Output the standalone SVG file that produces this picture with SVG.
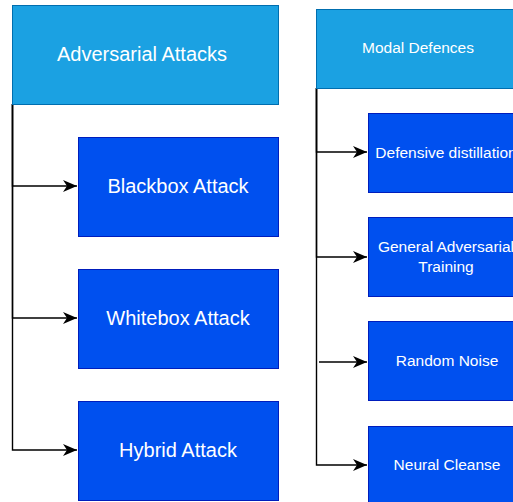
<svg xmlns="http://www.w3.org/2000/svg" width="513" height="502" viewBox="0 0 513 502">
<style>
.hdr{fill:#1ba1e2;stroke:#006eaf;stroke-width:1}
.box{fill:#0050ef;stroke:#001dbc;stroke-width:1}
.t{fill:#ffffff;font-family:"Liberation Sans",Arial,sans-serif;text-anchor:middle}
.big{font-size:20px}
.sm{font-size:15.5px}
.c{fill:none;stroke:#000;stroke-width:1.4}
</style>
<defs>
<marker id="arr" markerUnits="userSpaceOnUse" markerWidth="16" markerHeight="16" viewBox="0 0 16 16" refX="15" refY="8" orient="auto">
<path d="M1,2 L15,8 L1,14 L5,8 Z" fill="#000"/>
</marker>
</defs>
<rect width="513" height="502" fill="#fff"/>
<g id="connectors">
<path class="c" d="M12.5,104 V186 H77" marker-end="url(#arr)"/>
<path class="c" d="M12.5,104 V318 H77" marker-end="url(#arr)"/>
<path class="c" d="M12.5,104 V450 H77" marker-end="url(#arr)"/>
<path class="c" d="M316.5,88 V152 H367" marker-end="url(#arr)"/>
<path class="c" d="M316.5,88 V257 H367" marker-end="url(#arr)"/>
<path class="c" d="M316.5,88 V465 H367" marker-end="url(#arr)"/>
<path class="c" d="M319,362 H367" marker-end="url(#arr)"/>
</g>
<g id="adversarial-attacks">
<rect class="hdr" x="12.5" y="5.5" width="266" height="99"/>
<text class="t big" x="142" y="61">Adversarial Attacks</text>
</g>
<g id="blackbox-attack">
<rect class="box" x="78.5" y="137.5" width="200" height="99"/>
<text class="t big" x="178" y="193">Blackbox Attack</text>
</g>
<g id="whitebox-attack">
<rect class="box" x="78.5" y="269.5" width="200" height="99"/>
<text class="t big" x="178" y="325">Whitebox Attack</text>
</g>
<g id="hybrid-attack">
<rect class="box" x="78.5" y="401.5" width="200" height="99"/>
<text class="t big" x="178" y="457">Hybrid Attack</text>
</g>
<g id="modal-defences">
<rect class="hdr" x="316.5" y="9.5" width="204" height="79"/>
<text class="t sm" x="418" y="53">Modal Defences</text>
</g>
<g id="defensive-distillation">
<rect class="box" x="368.5" y="113.5" width="160" height="79"/>
<text class="t sm" x="446" y="158">Defensive distillation</text>
</g>
<g id="general-adversarial-training">
<rect class="box" x="368.5" y="217.5" width="160" height="79"/>
<text class="t sm" x="446" y="252">General Adversarial</text>
<text class="t sm" x="446" y="272">Training</text>
</g>
<g id="random-noise">
<rect class="box" x="368.5" y="321.5" width="160" height="79"/>
<text class="t sm" x="447" y="366">Random Noise</text>
</g>
<g id="neural-cleanse">
<rect class="box" x="368.5" y="426.5" width="160" height="79"/>
<text class="t sm" x="447" y="470">Neural Cleanse</text>
</g>
</svg>
